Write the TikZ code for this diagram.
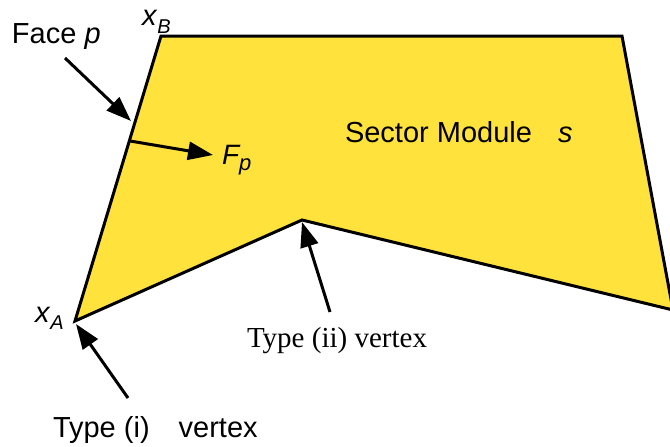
\documentclass[tikz,border=0pt]{standalone}
\usepackage{fontspec}
\setmainfont{Liberation Sans}
\newfontfamily\seriffont{Liberation Serif}
\usetikzlibrary{arrows.meta,calc}
\definecolor{sectorfill}{RGB}{255,226,60}
\begin{document}
\begin{tikzpicture}[x=1pt,y=-1pt,
  lbl/.style={inner sep=0pt, outer sep=0pt, font=\fontsize{29}{34}\selectfont},
  sublbl/.style={inner sep=0pt, outer sep=0pt, font=\fontsize{20}{24}\selectfont\itshape},
  pointer/.style={line width=3pt, -{Triangle[length=25pt,width=18pt]}},
  border/.style={line width=3pt, line join=miter, fill=sectorfill}]
\useasboundingbox (0,0) rectangle (670,447);
\clip (0,0) rectangle (670,447);
% vertices
\coordinate (xB) at (161,36);
\coordinate (TR) at (622,36);
\coordinate (RC) at (673,310);
\coordinate (V2) at (302,220);
\coordinate (xA) at (75,321);
\draw[border] (xB) -- (TR) -- (RC) -- (V2) -- (xA) -- cycle;
% labels
\node[lbl, anchor=base west] (facep) at (12,43) {Face \textit{p}};
\node[lbl, anchor=base west] (xBx) at (142,25) {\textit{x}};
\node[sublbl, anchor=base west] (xBsub) at (xBx.base east) [yshift=-8pt] {B};
\node[lbl, anchor=base west] (xAx) at (35,322) {\textit{x}};
\node[sublbl, anchor=base west] (xAsub) at (xAx.base east) [yshift=-7pt] {A};
\node[lbl, anchor=base west, font=\fontsize{28}{32}\selectfont\itshape] (Fp) at (222,164) {F};
\node[sublbl, anchor=base west, font=\fontsize{22}{26}\selectfont\itshape] (Fpsub) at (Fp.base east) [yshift=-6pt] {p};
\node[lbl, anchor=base west] (sector) at (345,142) {Sector Module};
\node[lbl, anchor=base west] (secs) at (558,142) {\textit{s}};
\node[lbl, anchor=base, font=\fontsize{29}{34}\selectfont\seriffont] (type2) at (337,347) {Type (ii) vertex};
\node[lbl, anchor=base west] (type1) at (53,437) {Type (i)\hspace{1em}vertex};
% arrows
\coordinate (faceStart) at (65,58);
\coordinate (faceEnd) at (131,121);
\coordinate (FpStart) at ($(xB)!0.368!(xA)$);
\coordinate (FpEnd) at (213,155);
\coordinate (t2Start) at (330,312);
\coordinate (t2End) at (302,222);
\coordinate (t1Start) at (128,398);
\coordinate (t1End) at (76,324);
\draw[pointer] (faceStart) -- (faceEnd);
\draw[pointer] (FpStart) -- (FpEnd);
\draw[pointer] (t2Start) -- (t2End);
\draw[pointer] (t1Start) -- (t1End);
\end{tikzpicture}
\end{document}
